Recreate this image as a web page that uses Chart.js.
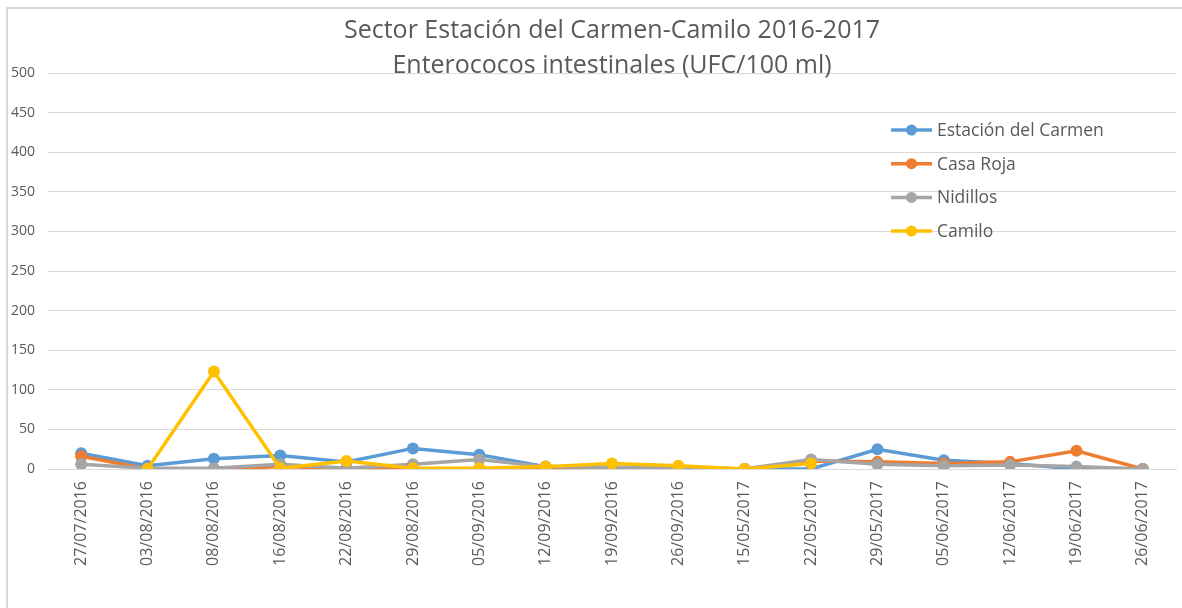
<!DOCTYPE html>
<html>
<head>
<meta charset="utf-8">
<script src="https://cdn.jsdelivr.net/npm/chart.js@4/dist/chart.umd.min.js"></script>
<style>
  html, body { margin: 0; padding: 0; background: #fff; }
  #wrap { width: 1182px; height: 608px; position: relative; }
</style>
</head>
<body>
<div id="wrap"><canvas id="chart" width="1182" height="608"></canvas></div>
<script>
// ── Enterococos — Estación del Carmen / Camilo ──

const fechas = [
  '27/07/2016', '03/08/2016', '08/08/2016', '16/08/2016', '22/08/2016',
  '29/08/2016', '05/09/2016', '12/09/2016', '19/09/2016', '26/09/2016',
  '15/05/2017', '22/05/2017', '29/05/2017', '05/06/2017', '12/06/2017',
  '19/06/2017', '26/06/2017'
];

const estacionCarmen = [20, 4, 13, 17, 9, 26, 18, 3, 2, 2, 0, 0, 25, 11, 7, 0, 0];
const casaRoja       = [16, 0, 0, 3, 1, 0, 0, 1, 1, 1, 0, 10, 9, 7, 9, 23, 0];
const nidillos       = [6, 1, 1, 6, 1, 6, 12, 3, 2, 2, 0, 12, 6, 4, 5, 3, 0];
const camilo         = [null, 0, 123, 1, 10, 1, 1, 3, 7, 4, 0, 7, null, null, null, null, null];

const yTicks = [0, 50, 100, 150, 200, 250, 300, 350, 400, 450, 500];

const TEXT = '#595959';
const GRID = '#d9d9d9';
const FONT = "'Open Sans', sans-serif";

const titulo = ['Sector Estación del Carmen-Camilo 2016-2017', 'Enterococos intestinales (UFC/100 ml)'];

function serie(label, data, color, order) {
  return {
    label, data, order,
    borderColor: color,
    backgroundColor: color,
    borderWidth: 3.5,
    pointRadius: 6,
    pointHoverRadius: 6,
    pointBorderWidth: 0,
    pointBackgroundColor: color,
    tension: 0,
    spanGaps: false,
  };
}

// marco, título y leyenda dentro del área del gráfico
const decoracion = {
  id: 'decoracion',
  beforeDraw(chart) {
    const c = chart.ctx;
    c.save();
    c.strokeStyle = GRID;
    c.lineWidth = 2;
    c.strokeRect(7, 8, chart.width + 20, chart.height + 20);
    c.restore();
  },
  afterDraw(chart) {
    const c = chart.ctx;
    const area = chart.chartArea;
    c.save();
    c.fillStyle = TEXT;
    c.textAlign = 'center';
    c.textBaseline = 'middle';
    c.font = '25px ' + FONT;
    const cx = (area.left + area.right) / 2;
    c.fillText(titulo[0], cx, 31);
    c.fillText(titulo[1], cx, 66);

    c.font = '17.5px ' + FONT;
    c.textAlign = 'left';
    chart.data.datasets.forEach((ds, i) => {
      const y = 130 + i * 33.7;
      c.strokeStyle = ds.borderColor;
      c.lineWidth = 3.5;
      c.beginPath();
      c.moveTo(891, y);
      c.lineTo(932, y);
      c.stroke();
      c.fillStyle = ds.borderColor;
      c.beginPath();
      c.arc(911.5, y, 5.5, 0, Math.PI * 2);
      c.fill();
      c.fillStyle = TEXT;
      c.fillText(ds.label, 937, y + 1);
    });
    c.restore();
  }
};

new Chart(document.getElementById('chart'), {
  type: 'line',
  data: {
    labels: fechas,
    datasets: [
      serie('Estación del Carmen', estacionCarmen, '#5B9BD5', 3),
      serie('Casa Roja', casaRoja, '#ED7D31', 2),
      serie('Nidillos', nidillos, '#A5A5A5', 1),
      serie('Camilo', camilo, '#FFC000', 0),
    ]
  },
  options: {
    responsive: false,
    animation: false,
    layout: { padding: { top: 73, right: 5, left: 0, bottom: 0 } },
    plugins: {
      legend: { display: false },
      title: { display: false },
      tooltip: { enabled: false },
    },
    scales: {
      x: {
        offset: true,
        grid: { display: false, drawTicks: false },
        border: { display: true, color: GRID, width: 1 },
        ticks: {
          color: TEXT,
          font: { family: FONT, size: 16 },
          minRotation: 90,
          maxRotation: 90,
          autoSkip: false,
          padding: 12,
        },
        afterFit(scale) { scale.height = 139; },
      },
      y: {
        min: 0,
        max: 500,
        afterBuildTicks(scale) { scale.ticks = yTicks.map(v => ({ value: v })); },
        grid: { color: GRID, lineWidth: 1, drawTicks: false },
        border: { display: false },
        ticks: {
          color: TEXT,
          font: { family: FONT, size: 14 },
          padding: 13,
        },
        afterFit(scale) { scale.width = 48; },
      }
    }
  },
  plugins: [decoracion]
});
</script>
</body>
</html>
